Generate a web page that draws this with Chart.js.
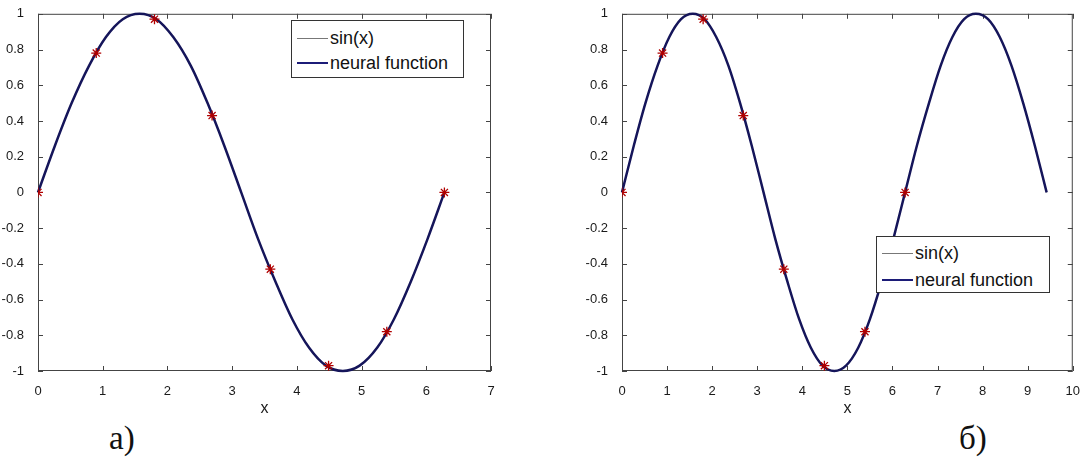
<!DOCTYPE html>
<html>
<head>
<meta charset="utf-8">
<script src="https://cdn.jsdelivr.net/npm/chart.js@4"></script>
<style>
  body { margin: 0; background: #fff; width: 1085px; height: 457px; position: relative; overflow: hidden; }
  .box { position: absolute; top: 0; height: 420px; }
  .legend { position: absolute; border: 1px solid #333; background: #fff; font-family: "Liberation Sans", Arial, sans-serif; font-size: 18px; color: #111; }
  .row { position: absolute; left: 0; height: 20px; display: flex; align-items: center; }
  .row span.ln { display: inline-block; width: 31px; margin: 0 2px 0 5px; }
  .cap { position: absolute; font-family: "Liberation Serif", "Times New Roman", serif; font-size: 33px; color: #111; }
</style>
</head>
<body>
<div class="box" style="left:0;width:530px"><canvas id="left"></canvas></div>
<div class="box" style="left:584px;width:501px"><canvas id="right"></canvas></div>

<div class="legend" style="left:291px;top:20px;width:171px;height:56px">
  <div class="row" style="top:7px"><span class="ln" style="border-top:1px solid #777"></span>sin(x)</div>
  <div class="row" style="top:32px"><span class="ln" style="border-top:2.5px solid #1c1c78"></span>neural function</div>
</div>
<div class="legend" style="left:876px;top:236px;width:172px;height:55px">
  <div class="row" style="top:6px"><span class="ln" style="border-top:1px solid #777"></span>sin(x)</div>
  <div class="row" style="top:33px"><span class="ln" style="border-top:2.5px solid #1c1c78"></span>neural function</div>
</div>

<div class="cap" style="left:109px;top:420px">а)</div>
<div class="cap" style="left:959px;top:420px">б)</div>

<script>
const curveX = [0, 0.26, 0.52, 0.79, 1.05, 1.31, 1.57, 1.83, 2.09, 2.36, 2.62, 2.88, 3.14,
  3.40, 3.67, 3.93, 4.19, 4.45, 4.71, 4.97, 5.24, 5.50, 5.76, 6.02, 6.28,
  6.54, 6.81, 7.07, 7.33, 7.59, 7.85, 8.12, 8.38, 8.64, 8.90, 9.16, 9.42];
const sinY = [0, 0.26, 0.5, 0.71, 0.87, 0.97, 1, 0.97, 0.87, 0.71, 0.5, 0.26, 0,
  -0.26, -0.5, -0.71, -0.87, -0.97, -1, -0.97, -0.87, -0.71, -0.5, -0.26, 0,
  0.26, 0.5, 0.71, 0.87, 0.97, 1, 0.97, 0.87, 0.71, 0.5, 0.26, 0];
const neuralY = [0, 0.26, 0.5, 0.71, 0.87, 0.97, 1, 0.97, 0.87, 0.71, 0.5, 0.26, 0,
  -0.26, -0.5, -0.71, -0.87, -0.97, -1, -0.97, -0.87, -0.71, -0.5, -0.26, 0,
  0.26, 0.5, 0.71, 0.87, 0.97, 1, 0.97, 0.87, 0.71, 0.5, 0.26, 0];

// training points (red stars)
const trainX = [0, 0.9, 1.8, 2.69, 3.59, 4.49, 5.39, 6.28];
const trainY = [0, 0.78, 0.97, 0.43, -0.43, -0.97, -0.78, 0];

const yTicks = [-1, -0.8, -0.6, -0.4, -0.2, 0, 0.2, 0.4, 0.6, 0.8, 1];

const axisColor = '#444';
const tickFont = { family: 'Liberation Sans, Arial, sans-serif', size: 13 };

// box around the plot and inward tick marks, matlab style
const matlabAxes = {
  id: 'matlabAxes',
  beforeDatasetsDraw(chart) {
    const { ctx, chartArea: a, scales } = chart;
    ctx.save();
    ctx.strokeStyle = axisColor;
    ctx.lineWidth = 1;
    ctx.strokeRect(a.left + 0.5, a.top + 0.5, a.right - a.left - 1, a.bottom - a.top - 1);
    ctx.beginPath();
    scales.x.ticks.forEach(t => {
      const px = Math.round(scales.x.getPixelForValue(t.value)) + 0.5;
      ctx.moveTo(px, a.bottom); ctx.lineTo(px, a.bottom - 5);
      ctx.moveTo(px, a.top); ctx.lineTo(px, a.top + 5);
    });
    scales.y.ticks.forEach(t => {
      const py = Math.round(scales.y.getPixelForValue(t.value)) + 0.5;
      ctx.moveTo(a.left, py); ctx.lineTo(a.left + 5, py);
      ctx.moveTo(a.right, py); ctx.lineTo(a.right - 5, py);
    });
    ctx.stroke();
    ctx.restore();
  }
};

function makeChart(id, xMax, xEnd, padRight) {
  const pts = (xs, ys) => xs.map((x, i) => ({ x: x, y: ys[i] })).filter(p => p.x <= xEnd);
  new Chart(document.getElementById(id), {
    type: 'scatter',
    data: {
      datasets: [
        {
          label: 'train',
          data: pts(trainX, trainY),
          pointStyle: 'star',
          pointRadius: 5,
          borderColor: '#b00000',
          borderWidth: 1.3,
          showLine: false
        },
        {
          label: 'neural function',
          data: pts(curveX, neuralY),
          showLine: true,
          borderColor: '#15155a',
          borderWidth: 2.5,
          pointRadius: 0,
          cubicInterpolationMode: 'monotone',
          clip: 5
        },
        {
          label: 'sin(x)',
          data: pts(curveX, sinY),
          showLine: true,
          borderColor: '#555',
          borderWidth: 1,
          pointRadius: 0,
          cubicInterpolationMode: 'monotone',
          clip: 5
        }
      ]
    },
    options: {
      responsive: true,
      maintainAspectRatio: false,
      animation: false,
      layout: { padding: { top: 13, right: padRight, bottom: 0, left: 0 } },
      plugins: { legend: { display: false }, tooltip: { enabled: false } },
      scales: {
        x: {
          type: 'linear', min: 0, max: xMax,
          grid: { display: false },
          border: { display: false },
          ticks: { stepSize: 1, padding: 5, color: '#1a1a1a', font: tickFont },
          title: { display: true, text: 'x', color: '#1a1a1a', font: { family: tickFont.family, size: 16 }, padding: { top: 2, bottom: 2 } },
          afterFit: s => { s.height = 49; }
        },
        y: {
          type: 'linear', min: -1, max: 1,
          grid: { display: false },
          border: { display: false },
          afterBuildTicks: s => { s.ticks = yTicks.map(v => ({ value: v })); },
          ticks: { padding: 6, color: '#1a1a1a', font: tickFont, callback: v => String(Math.round(v * 10) / 10) },
          afterFit: s => { s.width = 38; }
        }
      }
    },
    plugins: [matlabAxes]
  });
}

makeChart('left', 7, 6.3, 39);
makeChart('right', 10, 9.5, 9);
</script>
</body>
</html>
